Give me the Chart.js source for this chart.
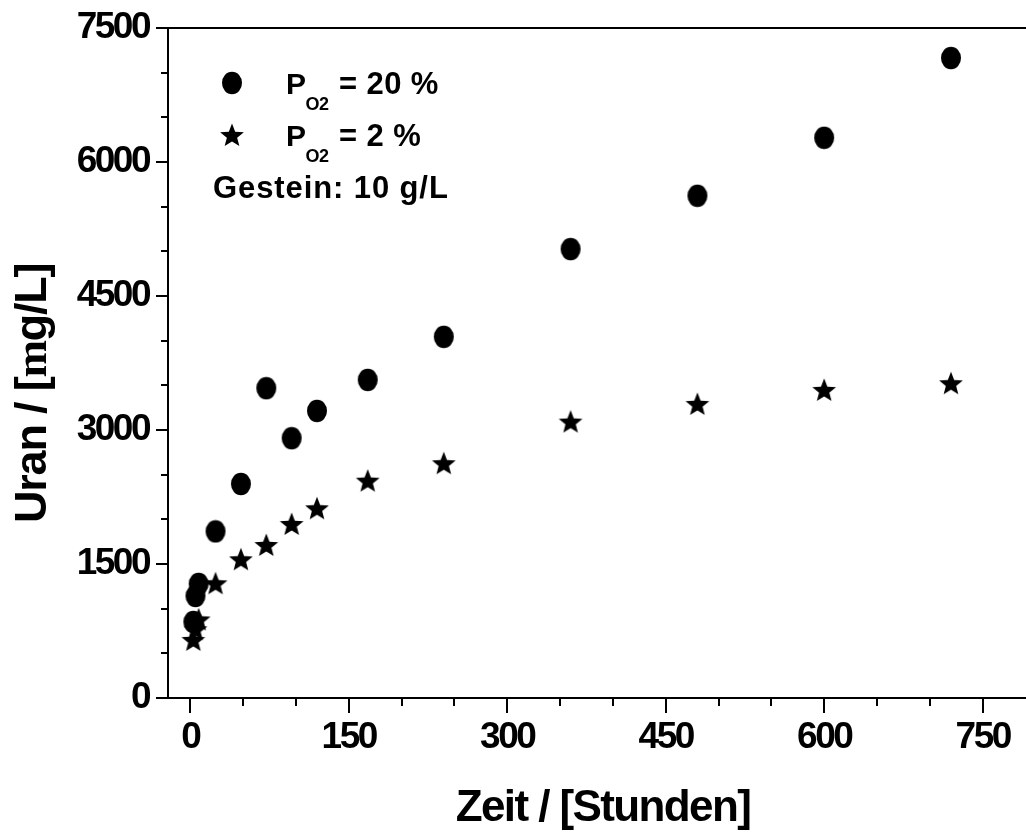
<!DOCTYPE html>
<html>
<head>
<meta charset="utf-8">
<script src="https://cdn.jsdelivr.net/npm/chart.js@4.4.1/dist/chart.umd.min.js"></script>
<style>
  html, body { margin: 0; padding: 0; background: #fff; overflow: hidden; }
  #wrap { width: 1026px; height: 837px; position: relative; }
</style>
</head>
<body>
<div id="wrap"><canvas id="chart"></canvas></div>
<script>
// sampling times in hours
const hours = [3, 5, 8, 24, 48, 72, 96, 120, 168, 240, 360, 480, 600, 720];
// uranium in solution, P_O2 = 20 %
const uranHighO2 = [851, 1142, 1277, 1865, 2396, 3468, 2908, 3214, 3561, 4043, 5025, 5622, 6271, 7164];
// uranium in solution, P_O2 = 2 %
const uranLowO2 = [650, 770, 880, 1284, 1553, 1713, 1948, 2124, 2433, 2628, 3094, 3292, 3449, 3524];

const xTicks = [0, 150, 300, 450, 600, 750];
const yTicks = [0, 1500, 3000, 4500, 6000, 7500];
const xMinorStep = 50;
const yMinorStep = 500;

const FONT = "'Liberation Sans', Arial, sans-serif";

function makeDot() {
  const c = document.createElement("canvas");
  c.width = 22; c.height = 24;
  const g = c.getContext("2d");
  g.fillStyle = "#000";
  g.beginPath();
  g.ellipse(11, 12, 10, 11.3, 0, 0, Math.PI * 2);
  g.fill();
  return c;
}

function makeStar() {
  const c = document.createElement("canvas");
  c.width = 26; c.height = 26;
  const g = c.getContext("2d");
  const R = 12.5, r = 5.4, cx = 13, cy = 14;
  g.fillStyle = "#000";
  g.beginPath();
  for (let i = 0; i < 10; i++) {
    const ang = -Math.PI / 2 + i * Math.PI / 5;
    const rad = i % 2 === 0 ? R : r;
    g.lineTo(cx + rad * Math.cos(ang), cy + rad * Math.sin(ang));
  }
  g.closePath();
  g.fill();
  return c;
}

const dotImg = makeDot();
const starImg = makeStar();

function pieces(ctx, parts, x, y) {
  // draws consecutive text runs with their own font / offsets
  let cx = x;
  for (const p of parts) {
    ctx.font = p.font;
    ctx.letterSpacing = p.spacing || "0px";
    if (p.at !== undefined) cx = p.at;
    ctx.fillText(p.text, cx, y + (p.dy || 0));
    cx += ctx.measureText(p.text).width;
  }
}

function noPadding(scale) {
  scale.paddingLeft = 0;
  scale.paddingRight = 0;
  scale.paddingTop = 0;
  scale.paddingBottom = 0;
}

const condensed = {
  id: "condensed",
  beforeDraw(chart) {
    chart.ctx.letterSpacing = "-2.5px";
  }
};

const axisFrame = {
  id: "axisFrame",
  beforeDatasetsDraw(chart) {
    const { ctx, chartArea: a, scales: { x, y } } = chart;
    ctx.save();
    ctx.strokeStyle = "#000";
    ctx.lineWidth = 2;
    ctx.beginPath();
    ctx.moveTo(a.left, a.top);
    ctx.lineTo(a.left, a.bottom);
    ctx.moveTo(a.left - 12, a.top);
    ctx.lineTo(a.right, a.top);
    ctx.moveTo(a.left - 12, a.bottom);
    ctx.lineTo(a.right, a.bottom);
    for (let v = y.min; v <= y.max; v += yMinorStep) {
      const py = Math.round(y.getPixelForValue(v));
      const len = yTicks.includes(v) ? 12 : 7;
      ctx.moveTo(a.left - len, py);
      ctx.lineTo(a.left, py);
    }
    for (let v = 0; v <= x.max; v += xMinorStep) {
      const px = Math.round(x.getPixelForValue(v));
      const len = xTicks.includes(v) ? 15 : 8;
      ctx.moveTo(px, a.bottom);
      ctx.lineTo(px, a.bottom + len);
    }
    ctx.stroke();
    ctx.restore();
  },
  afterDraw(chart) {
    const { ctx, chartArea: a } = chart;
    ctx.save();
    ctx.fillStyle = "#000";
    ctx.textBaseline = "alphabetic";

    // x title
    ctx.font = "bold 44px " + FONT;
    ctx.letterSpacing = "-1.6px";
    ctx.textAlign = "center";
    ctx.fillText("Zeit / [Stunden]", 603, 821);

    // y title (rotated)
    ctx.save();
    ctx.translate(46, 523);
    ctx.rotate(-Math.PI / 2);
    ctx.textAlign = "left";
    pieces(ctx, [
      { text: "Uran / [", font: "bold 45px " + FONT, spacing: "-1.2px" },
      { text: "m", font: "bold 45px 'Liberation Serif', serif", spacing: "-1.2px" },
      { text: "g/L]", font: "bold 45px " + FONT, spacing: "-1.2px" }
    ], 0, 0);
    ctx.restore();

    // legend
    const lx = a.left + 64;
    Chart.helpers.drawPoint(ctx, { pointStyle: dotImg, rotation: 0, radius: 10 }, lx, a.top + 55);
    Chart.helpers.drawPoint(ctx, { pointStyle: starImg, rotation: 0, radius: 10 }, lx, a.top + 107);
    ctx.textAlign = "left";
    const big = "bold 30px " + FONT;
    const sub = "bold 18px " + FONT;
    pieces(ctx, [
      { text: "P", font: big, spacing: "-0.5px" },
      { text: "O2", font: sub, spacing: "-0.5px", dy: 16 },
      { text: "= 20 %", font: "bold 31px " + FONT, spacing: "0.4px", at: 339 }
    ], 286, 94);
    pieces(ctx, [
      { text: "P", font: big, spacing: "-0.5px" },
      { text: "O2", font: sub, spacing: "-0.5px", dy: 16 },
      { text: "= 2 %", font: "bold 31px " + FONT, spacing: "0.4px", at: 339 }
    ], 286, 146);
    pieces(ctx, [
      { text: "Gestein: 10 g/L", font: "bold 31px " + FONT, spacing: "0.9px" }
    ], 213, 198);
    ctx.restore();
  }
};

const tickFont = { family: FONT, size: 37, weight: "bold" };
const plainNumber = (value) => String(value);

new Chart(document.getElementById("chart"), {
  type: "scatter",
  data: {
    datasets: [
      {
        label: "P O2 = 20 %",
        data: hours.map((h, i) => ({ x: h, y: uranHighO2[i] })),
        pointStyle: dotImg,
        pointRadius: 11,
        backgroundColor: "#000",
        borderColor: "#000"
      },
      {
        label: "P O2 = 2 %",
        data: hours.map((h, i) => ({ x: h, y: uranLowO2[i] })),
        pointStyle: starImg,
        pointRadius: 12,
        backgroundColor: "#000",
        borderColor: "#000"
      }
    ]
  },
  options: {
    responsive: true,
    maintainAspectRatio: false,
    animation: false,
    layout: { autoPadding: false, padding: { top: 28, right: 0, bottom: 0, left: 0 } },
    plugins: {
      legend: { display: false },
      tooltip: { enabled: false }
    },
    scales: {
      x: {
        type: "linear",
        min: -21,
        max: 791,
        grid: { display: false, drawTicks: false },
        border: { display: false },
        afterBuildTicks(scale) { scale.ticks = xTicks.map((v) => ({ value: v })); },
        afterFit(scale) { scale.height = 139; noPadding(scale); },
        ticks: { color: "#000", font: tickFont, padding: 18, maxRotation: 0, autoSkip: false, callback: plainNumber }
      },
      y: {
        type: "linear",
        min: 0,
        max: 7500,
        grid: { display: false, drawTicks: false },
        border: { display: false },
        afterBuildTicks(scale) { scale.ticks = yTicks.map((v) => ({ value: v })); },
        afterFit(scale) { scale.width = 168; noPadding(scale); },
        ticks: { color: "#000", font: tickFont, padding: 19, autoSkip: false, callback: plainNumber }
      }
    }
  },
  plugins: [condensed, axisFrame]
});
</script>
</body>
</html>
